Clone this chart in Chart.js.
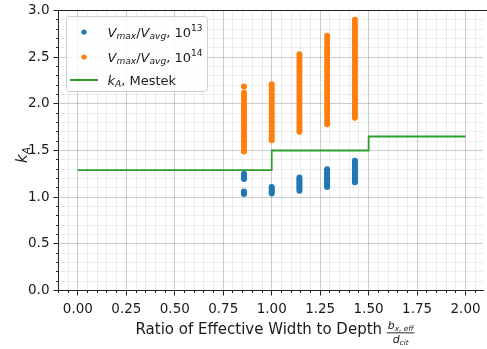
<!DOCTYPE html>
<html>
<head>
<meta charset="utf-8">
<script src="https://cdn.jsdelivr.net/npm/chart.js@4/dist/chart.umd.min.js"></script>
<style>
  html, body { margin: 0; padding: 0; background: #fff; overflow: hidden; }
  canvas { display: block; }
</style>
</head>
<body>
<canvas id="chart" width="487" height="349"></canvas>
<script>
// x position of each measured column (b_x,eff / d_cit)
const colX = [0.857, 1.0, 1.143, 1.286, 1.429];

// Vmax/Vavg, 10^13 - one list per column
const blue13 = [
    [1.25, 1.23, 1.21, 1.195, 1.06, 1.045, 1.035],
    [1.11, 1.09, 1.07, 1.055, 1.04],
    [1.21, 1.19, 1.17, 1.15, 1.13, 1.11, 1.09, 1.07],
    [1.30, 1.28, 1.26, 1.24, 1.22, 1.20, 1.18, 1.16, 1.14, 1.12, 1.11],
    [1.39, 1.37, 1.35, 1.33, 1.31, 1.29, 1.27, 1.25, 1.23, 1.21, 1.19, 1.17, 1.16]
];

// Vmax/Vavg, 10^14 - one list per column
const orange14 = [
    [2.185, 2.12, 2.10, 2.07, 2.04, 2.01, 1.98, 1.95, 1.92, 1.89, 1.86, 1.83, 1.80, 1.77, 1.74, 1.71, 1.68, 1.65, 1.62, 1.59, 1.56, 1.53, 1.50, 1.49],
    [2.21, 2.18, 2.15, 2.12, 2.09, 2.06, 2.03, 2.00, 1.97, 1.94, 1.91, 1.88, 1.85, 1.82, 1.79, 1.76, 1.73, 1.70, 1.67, 1.64, 1.61],
    [2.53, 2.50, 2.47, 2.44, 2.41, 2.38, 2.35, 2.32, 2.29, 2.26, 2.23, 2.20, 2.17, 2.14, 2.11, 2.08, 2.05, 2.02, 1.99, 1.96, 1.93, 1.90, 1.87, 1.84, 1.81, 1.78, 1.75, 1.72, 1.70],
    [2.73, 2.70, 2.67, 2.64, 2.61, 2.58, 2.55, 2.52, 2.49, 2.46, 2.43, 2.40, 2.37, 2.34, 2.31, 2.28, 2.25, 2.22, 2.19, 2.16, 2.13, 2.10, 2.07, 2.04, 2.01, 1.98, 1.95, 1.92, 1.89, 1.86, 1.83, 1.80, 1.78],
    [2.90, 2.87, 2.84, 2.81, 2.78, 2.75, 2.72, 2.69, 2.66, 2.63, 2.60, 2.57, 2.54, 2.51, 2.48, 2.45, 2.42, 2.39, 2.36, 2.33, 2.30, 2.27, 2.24, 2.21, 2.18, 2.15, 2.12, 2.09, 2.06, 2.03, 2.00, 1.97, 1.94, 1.91, 1.88, 1.85]
];

// k_A, Mestek step line
const mestekX = [0, 1.0, 1.0, 1.5, 1.5, 2.0];
const mestekY = [1.29, 1.29, 1.5, 1.5, 1.65, 1.65];

const xTickValues = [0, 0.25, 0.5, 0.75, 1.0, 1.25, 1.5, 1.75, 2.0];
const xTickLabels = ['0.00', '0.25', '0.50', '0.75', '1.00', '1.25', '1.50', '1.75', '2.00'];
const yTickValues = [0, 0.5, 1.0, 1.5, 2.0, 2.5, 3.0];
const yTickLabels = ['0.0', '0.5', '1.0', '1.5', '2.0', '2.5', '3.0'];
const xMinorStep = 0.05;
const yMinorStep = 0.1;

const FONT = '"DejaVu Sans", sans-serif';
const TEXT = '#1a1a1a';
const MAJOR_GRID = 'rgba(0,0,0,0.20)';
const MINOR_GRID = 'rgba(0,0,0,0.07)';

function toPoints(cols) {
    var pts = [];
    cols.forEach((ys, i) => ys.forEach(y => pts.push({ x: colX[i], y: y })));
    return pts;
}

function majorIndex(values, v) {
    return values.findIndex(m => Math.abs(m - v) < 1e-6);
}

function minorTicks(min, max, step) {
    var out = [];
    for (let i = Math.ceil(min / step - 1e-9); i * step <= max + 1e-9; i++) {
        out.push({ value: Math.round(i * step * 1000) / 1000 });
    }
    return out;
}

// draw (or just measure) text with italic / sub / superscript parts
function rich(ctx, x, y, parts, size, draw) {
    parts.forEach(p => {
        const s = p.size || ((p.sub || p.sup) ? size * 0.7 : size);
        ctx.font = (p.it ? 'italic ' : '') + s + 'px ' + FONT;
        const dy = p.sub ? size * 0.22 : (p.sup ? -size * 0.42 : 0);
        if (draw) ctx.fillText(p.t, x, y + dy);
        x += ctx.measureText(p.t).width;
    });
    return x;
}

const legendRows = [
    { color: '#1f77b4', type: 'dot', parts: [{ t: 'V', it: 1 }, { t: 'max', it: 1, sub: 1 }, { t: '/' }, { t: 'V', it: 1 }, { t: 'avg', it: 1, sub: 1 }, { t: ', 10' }, { t: '13', sup: 1 }] },
    { color: '#ff7f0e', type: 'dot', parts: [{ t: 'V', it: 1 }, { t: 'max', it: 1, sub: 1 }, { t: '/' }, { t: 'V', it: 1 }, { t: 'avg', it: 1, sub: 1 }, { t: ', 10' }, { t: '14', sup: 1 }] },
    { color: '#2ca02c', type: 'line', parts: [{ t: 'k', it: 1 }, { t: 'A', it: 1, sub: 1 }, { t: ', Mestek' }] }
];

function align(v) {
    return Math.round(v - 0.5) + 0.5;
}

const decorations = {
    id: 'decorations',
    afterDraw(chart) {
        const ctx = chart.ctx;
        const a = chart.chartArea;
        const xs = chart.scales.x;
        const ys = chart.scales.y;
        ctx.save();

        // top spine
        ctx.strokeStyle = '#222';
        ctx.lineWidth = 1;
        ctx.beginPath();
        ctx.moveTo(a.left, align(a.top));
        ctx.lineTo(chart.width, align(a.top));
        ctx.stroke();

        // tick marks, major longer than minor
        ctx.beginPath();
        xs.ticks.forEach(t => {
            const px = align(xs.getPixelForValue(t.value));
            const len = majorIndex(xTickValues, t.value) >= 0 ? 5 : 2.5;
            ctx.moveTo(px, align(a.bottom));
            ctx.lineTo(px, align(a.bottom) + len);
        });
        ys.ticks.forEach(t => {
            const py = align(ys.getPixelForValue(t.value));
            const len = majorIndex(yTickValues, t.value) >= 0 ? 5 : 2.5;
            ctx.moveTo(align(a.left), py);
            ctx.lineTo(align(a.left) - len, py);
        });
        ctx.stroke();

        ctx.fillStyle = TEXT;
        ctx.textBaseline = 'alphabetic';
        ctx.textAlign = 'left';

        // x axis title with fraction
        const size = 15;
        const mainText = 'Ratio of Effective Width to Depth ';
        ctx.font = size + 'px ' + FONT;
        const mainW = ctx.measureText(mainText).width;
        const fs = 11;
        const ss = 7.3;
        const num = [{ t: 'b', it: 1, size: fs }, { t: 'x, eff', it: 1, size: ss }];
        const den = [{ t: 'd', it: 1, size: fs }, { t: 'cit', it: 1, size: ss }];
        const numW = rich(ctx, 0, 0, num, fs, false);
        const denW = rich(ctx, 0, 0, den, fs, false);
        const fracW = Math.max(numW, denW) + 2;
        const cx = 275;
        let x0 = cx - (mainW + fracW) / 2;
        const base = 334;
        ctx.font = size + 'px ' + FONT;
        ctx.fillText(mainText, x0, base);
        const fx = x0 + mainW;
        ctx.fillRect(fx, base - 1.6, fracW, 0.9);
        // numerator: subscript lowered a bit
        let nx = fx + (fracW - numW) / 2;
        ctx.font = 'italic ' + fs + 'px ' + FONT;
        ctx.fillText('b', nx, base - 5.5);
        nx += ctx.measureText('b').width;
        ctx.font = 'italic ' + ss + 'px ' + FONT;
        ctx.fillText('x, eff', nx, base - 3.5);
        let dx = fx + (fracW - denW) / 2;
        ctx.font = 'italic ' + fs + 'px ' + FONT;
        ctx.fillText('d', dx, base + 9);
        dx += ctx.measureText('d').width;
        ctx.font = 'italic ' + ss + 'px ' + FONT;
        ctx.fillText('cit', dx, base + 11);

        // y axis title k_A
        ctx.save();
        ctx.translate(27, 155);
        ctx.rotate(-Math.PI / 2);
        const kw = rich(ctx, 0, 0, [{ t: 'k', it: 1 }, { t: 'A', it: 1, sub: 1 }], size, false);
        rich(ctx, -kw / 2, 0, [{ t: 'k', it: 1 }, { t: 'A', it: 1, sub: 1 }], size, true);
        ctx.restore();

        // legend box
        const bx = 66.5, by = 16.5, bw = 141, bh = 75;
        ctx.beginPath();
        ctx.roundRect(bx, by, bw, bh, 3);
        ctx.fillStyle = 'rgba(255,255,255,0.8)';
        ctx.fill();
        ctx.strokeStyle = '#d0d0d0';
        ctx.stroke();

        const rowY = [32, 57, 80];
        const baseY = [36.5, 61.5, 84.5];
        legendRows.forEach((r, i) => {
            ctx.fillStyle = r.color;
            ctx.strokeStyle = r.color;
            if (r.type === 'dot') {
                ctx.beginPath();
                ctx.arc(84, rowY[i], 2.6, 0, Math.PI * 2);
                ctx.fill();
            } else {
                ctx.lineWidth = 2;
                ctx.beginPath();
                ctx.moveTo(70, rowY[i]);
                ctx.lineTo(98, rowY[i]);
                ctx.stroke();
            }
            ctx.fillStyle = TEXT;
            rich(ctx, 107.5, baseY[i], r.parts, 13, true);
        });

        ctx.restore();
    }
};

var ctx = document.getElementById('chart').getContext('2d');
var chartInstance = new Chart(ctx, {
    type: 'scatter',
    data: {
        datasets: [{
            label: 'Vmax/Vavg, 10^13',
            data: toPoints(blue13),
            backgroundColor: '#1f77b4',
            borderWidth: 0,
            pointRadius: 3,
            order: 3
        }, {
            label: 'Vmax/Vavg, 10^14',
            data: toPoints(orange14),
            backgroundColor: '#ff7f0e',
            borderWidth: 0,
            pointRadius: 3,
            order: 2
        }, {
            label: 'kA, Mestek',
            data: mestekX.map((x, i) => ({ x: x, y: mestekY[i] })),
            showLine: true,
            borderColor: '#2ca02c',
            borderWidth: 1.8,
            pointRadius: 0,
            fill: false,
            order: 1
        }]
    },
    options: {
        responsive: false,
        animation: false,
        devicePixelRatio: 1,
        layout: { padding: { top: 10.5, left: 0, right: 0, bottom: 0 } },
        plugins: {
            legend: { display: false },
            tooltip: { enabled: false }
        },
        scales: {
            x: {
                type: 'linear',
                min: -0.1,
                max: 2.09,
                afterBuildTicks: axis => { axis.ticks = minorTicks(-0.1, 2.09, xMinorStep); },
                afterFit: axis => { axis.height = 58.5; axis.paddingLeft = 0; axis.paddingRight = 0; },
                border: { color: '#222', width: 1 },
                grid: {
                    drawTicks: false,
                    lineWidth: 1,
                    color: c => (c.tick && majorIndex(xTickValues, c.tick.value) >= 0) ? MAJOR_GRID : MINOR_GRID
                },
                ticks: {
                    autoSkip: false,
                    maxRotation: 0,
                    minRotation: 0,
                    padding: 10.5,
                    color: TEXT,
                    font: { family: FONT, size: 13.5 },
                    callback: v => {
                        const i = majorIndex(xTickValues, v);
                        return i >= 0 ? xTickLabels[i] : '';
                    }
                }
            },
            y: {
                type: 'linear',
                min: 0,
                max: 3,
                afterBuildTicks: axis => { axis.ticks = minorTicks(0, 3, yMinorStep); },
                afterFit: axis => { axis.width = 58.5; axis.paddingTop = 0; axis.paddingBottom = 0; },
                border: { color: '#222', width: 1 },
                grid: {
                    drawTicks: false,
                    lineWidth: 1,
                    color: c => (c.tick && majorIndex(yTickValues, c.tick.value) >= 0) ? MAJOR_GRID : MINOR_GRID
                },
                ticks: {
                    autoSkip: false,
                    padding: 9,
                    color: TEXT,
                    font: { family: FONT, size: 13.5 },
                    callback: v => {
                        const i = majorIndex(yTickValues, v);
                        return i >= 0 ? yTickLabels[i] : '';
                    }
                }
            }
        }
    },
    plugins: [decorations]
});
</script>
</body>
</html>
